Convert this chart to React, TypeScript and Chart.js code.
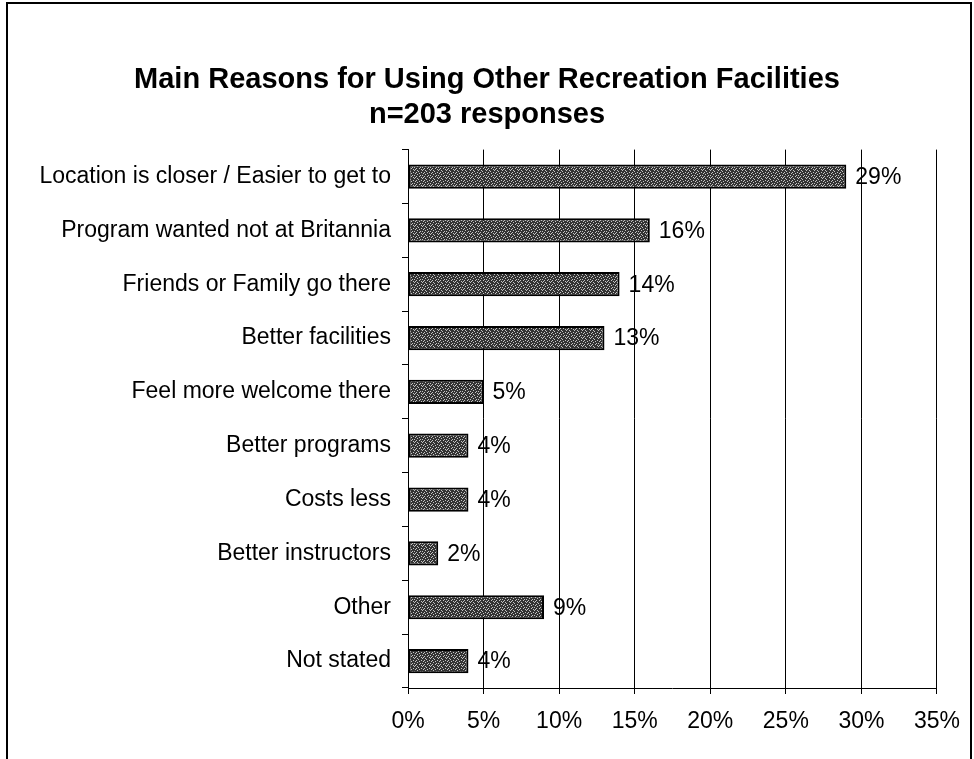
import React, { useEffect, useRef } from "react";
import { Chart, registerables } from "chart.js";

Chart.register(...registerables);

const categories = [
  "Location is closer / Easier to get to",
  "Program wanted not at Britannia",
  "Friends or Family go there",
  "Better facilities",
  "Feel more welcome there",
  "Better programs",
  "Costs less",
  "Better instructors",
  "Other",
  "Not stated",
];
const values = [29, 16, 14, 13, 5, 4, 4, 2, 9, 4];
const titleLines = ["Main Reasons for Using Other Recreation Facilities", "n=203 responses"];

const FONT = "'Liberation Sans', Arial, Helvetica, sans-serif";

function makePattern(ctx: CanvasRenderingContext2D) {
  const c = document.createElement("canvas");
  c.width = 8;
  c.height = 8;
  const p = c.getContext("2d")!;
  const map = [
    "10010000",
    "00000101",
    "01000010",
    "00100000",
    "10000100",
    "00010001",
    "01000000",
    "00001010",
  ];
  for (let y = 0; y < 8; y++) {
    for (let x = 0; x < 8; x++) {
      p.fillStyle = map[y][x] === "1" ? "#c4c4c4" : "#333333";
      p.fillRect(x, y, 1, 1);
    }
  }
  return ctx.createPattern(c, "repeat")!;
}

const labelPlugin = {
  id: "valueLabels",
  afterDatasetsDraw(chart: any) {
    const ctx = chart.ctx;
    const meta = chart.getDatasetMeta(0);
    ctx.save();
    ctx.font = `23px ${FONT}`;
    ctx.fillStyle = "#000";
    ctx.textAlign = "left";
    ctx.textBaseline = "middle";
    meta.data.forEach((bar: any, i: number) => {
      ctx.fillText(`${values[i]}%`, bar.x + 9, bar.y + 1);
    });
    ctx.restore();
  },
};

export default function App() {
  const ref = useRef<HTMLCanvasElement>(null);
  useEffect(() => {
    const canvas = ref.current!;
    const ctx = canvas.getContext("2d")!;
    const pattern = makePattern(ctx);
    const chart = new Chart(canvas, {
      type: "bar",
      data: {
        labels: categories,
        datasets: [
          {
            data: values,
            backgroundColor: pattern as any,
            borderColor: "#000",
            borderWidth: 2,
            borderSkipped: false,
            categoryPercentage: 1,
            barPercentage: 0.45,
          },
        ],
      },
      options: {
        indexAxis: "y",
        animation: false,
        responsive: false,
        maintainAspectRatio: false,
        layout: { padding: { left: 36, right: 36, top: 0, bottom: 0 } },
        plugins: {
          legend: { display: false },
          tooltip: { enabled: false },
          title: {
            display: true,
            text: titleLines,
            color: "#000",
            font: { family: FONT, size: 29, weight: "bold", lineHeight: 1.2 },
            padding: { top: 63, bottom: 17 },
          },
        },
        scales: {
          x: {
            min: 0,
            max: 35,
            ticks: {
              stepSize: 5,
              color: "#000",
              font: { family: FONT, size: 23 },
              padding: 14,
              callback: (v: any) => `${v}%`,
              maxRotation: 0,
            },
            grid: { color: "#000", lineWidth: 1, tickLength: 6, drawTicks: true },
            border: { display: true, color: "#000", width: 1 },
            afterFit: (s: any) => {
              s.height = 71;
            },
          },
          y: {
            ticks: {
              color: "#000",
              font: { family: FONT, size: 23 },
              padding: 11,
              autoSkip: false,
            },
            grid: { offset: true, drawOnChartArea: false, color: "#000", tickLength: 6 },
            border: { display: true, color: "#000", width: 1 },
            afterFit: (s: any) => {
              s.width = 372;
            },
          },
        },
      },
      plugins: [labelPlugin],
    });
    return () => chart.destroy();
  }, []);
  return (
    <div style={{ position: "absolute", left: 0, top: 0, width: 974, height: 759, background: "#fff" }}>
      <div
        style={{
          position: "absolute",
          left: 6,
          top: 2,
          width: 966,
          height: 770,
          border: "2px solid #000",
          boxSizing: "border-box",
        }}
      />
      <canvas ref={ref} width={974} height={759} style={{ position: "absolute", left: 0, top: 0 }} />
    </div>
  );
}
